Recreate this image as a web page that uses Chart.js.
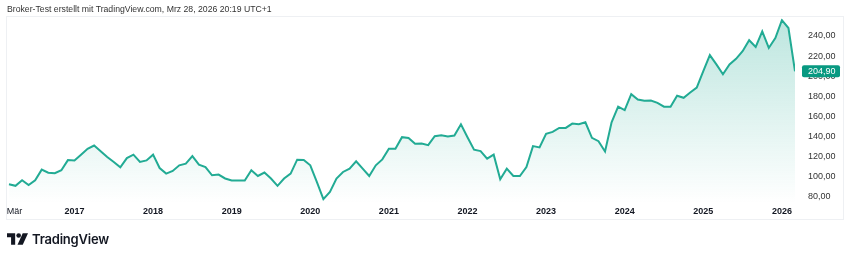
<!DOCTYPE html>
<html>
<head>
<meta charset="utf-8">
<script src="https://cdn.jsdelivr.net/npm/chart.js@4/dist/chart.umd.min.js"></script>
<style>
  html, body { margin: 0; padding: 0; background: #fff; }
  body { width: 850px; height: 258px; position: relative; overflow: hidden; font-family: "Liberation Sans", Arial, sans-serif; }
  #title { position: absolute; left: 7px; top: 4px; font-size: 8.7px; color: #333; white-space: nowrap; }
  #wrap { position: absolute; left: 0; top: 0; width: 850px; height: 258px; }
  #logo { position: absolute; left: 7px; top: 231px; height: 16px; display: flex; align-items: center; }
  #logo svg { display: block; }
  #logo span { font-family: "Inter", "Liberation Sans", Arial, sans-serif; font-weight: 600; font-size: 13px; color: #131722; margin-left: 4px; letter-spacing: -0.2px; }
</style>
</head>
<body>
<div id="wrap"><canvas id="c" width="850" height="258"></canvas></div>
<div id="title">Broker-Test erstellt mit TradingView.com, Mrz 28, 2026 20:19 UTC+1</div>
<div id="logo">
  <svg width="21" height="12" viewBox="0 0 36 20">
    <path d="M0 0h14v20H7V7H0z" fill="#131722"/>
    <circle cx="20" cy="4" r="4" fill="#131722"/>
    <path d="M27 0h9l-9 20h-9z" fill="#131722"/>
  </svg>
  <span>TradingView</span>
</div>
<script>
// ---- data (monthly closes, Mar 2016 .. Mar 2026) ----
const monthIndex = Array.from({length: 121}, (_, i) => i);
const closes = [
  92.5, 90.9, 96.5, 91.6, 96.5, 107.0, 104.0, 103.4, 106.4, 116.5,
  116.2, 121.9, 127.8, 131.0, 125.4, 119.5, 114.6, 109.3, 118.5, 121.9, 114.6, 116.2,
  121.9, 108.6, 103.1, 105.7, 111.3, 113.0, 120.5, 112.0, 109.6, 101.4, 102.1, 98.2,
  96.2, 96.2, 96.2, 106.4, 100.7, 104.1, 98.2, 90.9, 98.2, 103.1, 116.9, 116.5,
  111.3, 94.8, 77.7, 84.9, 98.2, 104.7, 108.0, 115.3, 108.0, 100.7, 111.3, 117.2,
  127.8, 127.8, 139.3, 138.5, 132.7, 133.0, 131.4, 140.2, 141.2, 140.0, 140.9, 152.1,
  139.3, 126.8, 125.4, 117.9, 121.9, 97.5, 108.0, 100.7, 100.7, 109.6, 130.4, 129.1,
  142.6, 144.6, 148.5, 148.5, 152.8, 152.1, 154.1, 138.6, 135.3, 125.1, 154.1, 169.6,
  166.3, 182.1, 176.8, 175.5, 175.8, 173.5, 169.6, 169.6, 180.6, 178.5, 183.7, 188.6,
  205.1, 220.9, 211.7, 201.9, 211.7, 217.3, 224.9, 235.8, 229.1, 244.6, 228.1, 238.0,
  255.8, 247.9, 204.9
];
const lastPriceLabel = "204,90";
const xTickValues = [0.85, 10, 22, 34, 46, 58, 70, 82, 94, 106, 118];
const xTickLabels = ["Mär", "2017", "2018", "2019", "2020", "2021", "2022", "2023", "2024", "2025", "2026"];
const yTickValues = [80, 100, 120, 140, 160, 180, 200, 220, 240];
const yTickLabels = ["80,00", "100,00", "120,00", "140,00", "160,00", "180,00", "200,00", "220,00", "240,00"];

const LINE = '#22ab94';
const FONT = '"Liberation Sans", Arial, sans-serif';

const framePlugin = {
  id: 'frame',
  beforeDraw(chart) {
    const ctx = chart.ctx;
    ctx.save();
    ctx.strokeStyle = '#eef0f3';
    ctx.lineWidth = 1;
    ctx.strokeRect(6.5, 16.5, 837, 203);
    ctx.restore();
  },
  afterDraw(chart) {
    const ctx = chart.ctx;
    const ys = chart.scales.y;
    const last = closes[closes.length - 1];
    const yp = ys.getPixelForValue(last);
    ctx.save();
    ctx.fillStyle = '#089981';
    const x0 = 802, w = 38, h = 12;
    ctx.beginPath();
    if (ctx.roundRect) ctx.roundRect(x0, yp - h / 2, w, h, 2); else ctx.rect(x0, yp - h / 2, w, h);
    ctx.fill();
    ctx.fillStyle = '#ffffff';
    ctx.font = '9px ' + FONT;
    ctx.textAlign = 'left';
    ctx.textBaseline = 'middle';
    ctx.fillText(lastPriceLabel, x0 + 6, yp + 0.5);
    ctx.restore();
  }
};

new Chart(document.getElementById('c'), {
  type: 'line',
  data: {
    datasets: [{
      data: closes.map((v, i) => ({x: monthIndex[i], y: v})),
      borderColor: LINE,
      borderWidth: 2,
      pointRadius: 0,
      tension: 0,
      fill: 'start',
      backgroundColor(context) {
        const ca = context.chart.chartArea;
        if (!ca) return 'rgba(34,171,148,0.2)';
        const g = context.chart.ctx.createLinearGradient(0, ca.top, 0, ca.bottom);
        g.addColorStop(0, 'rgba(34,171,148,0.30)');
        g.addColorStop(1, 'rgba(34,171,148,0.0)');
        return g;
      }
    }]
  },
  options: {
    responsive: false,
    animation: false,
    layout: { padding: { left: 7, top: 17, right: 7, bottom: 39 } },
    plugins: { legend: { display: false }, tooltip: { enabled: false } },
    scales: {
      x: {
        type: 'linear',
        min: -0.3,
        max: 120,
        grid: { display: false, drawTicks: false },
        border: { display: false },
        afterFit(s) { s.height = 16; },
        afterBuildTicks(s) { s.ticks = xTickValues.map(v => ({value: v})); },
        ticks: {
          autoSkip: false,
          maxRotation: 0,
          padding: 3,
          color: '#131722',
          font(ctx) {
            return { family: FONT, size: 9, weight: ctx.index === 0 ? 'normal' : 'bold' };
          },
          callback(v, i) { return xTickLabels[i]; }
        }
      },
      y: {
        position: 'right',
        min: 73.8,
        max: 257.5,
        grid: { display: false, drawTicks: false },
        border: { display: false },
        afterFit(s) { s.width = 48; },
        afterBuildTicks(s) { s.ticks = yTickValues.map(v => ({value: v})); },
        ticks: {
          padding: 13,
          color: '#333',
          font: { family: FONT, size: 9 },
          callback(v, i) { return yTickLabels[i]; }
        }
      }
    }
  },
  plugins: [framePlugin]
});
</script>
</body>
</html>
